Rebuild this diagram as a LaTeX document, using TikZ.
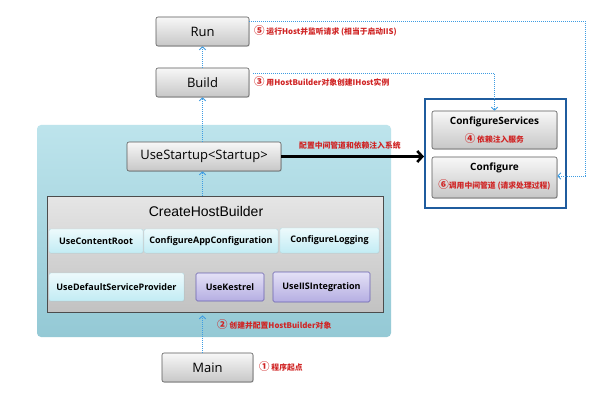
\documentclass[tikz,border=0pt]{standalone}
\usepackage{fontspec}
\setmainfont{Open Sans}
\newfontfamily\cjk{Noto Sans CJK SC}
\newfontfamily\arialf{Liberation Sans}
\usetikzlibrary{arrows.meta,shadows}
\definecolor{redtxt}{HTML}{D02424}
\definecolor{dotblue}{HTML}{3E9CE2}
\definecolor{frameblue}{HTML}{1F5C9E}
\definecolor{panelTop}{HTML}{BDE4EC}
\definecolor{panelBot}{HTML}{94C9D5}
\definecolor{cyanTop}{HTML}{EDFAFC}
\definecolor{cyanBot}{HTML}{C2ECF4}
\definecolor{cyanLine}{HTML}{B5DCE4}
\definecolor{purpTop}{HTML}{E4E1F6}
\definecolor{purpBot}{HTML}{B5AEE2}
\definecolor{purpLine}{HTML}{6A62B0}
\newcommand{\cnum}[1]{{\fontsize{10.5}{9}\selectfont #1}}
\begin{document}
\begin{tikzpicture}[x=1pt,y=-1pt,
  graybox/.style={draw=black!65, rounded corners=2pt, top color=black!3, bottom color=black!22,
    line width=0.6pt, drop shadow={opacity=0.25,shadow xshift=0.8pt,shadow yshift=-0.8pt},
    font=\fontsize{13}{15}\selectfont, inner sep=0pt},
  chbbox/.style={draw=black!70, top color=black!10, bottom color=black!24, line width=0.7pt,
    drop shadow={opacity=0.25,shadow xshift=0.8pt,shadow yshift=-0.8pt}, inner sep=0pt},
  cyanbox/.style={draw=cyanLine, rounded corners=1.5pt, top color=cyanTop, bottom color=cyanBot,
    line width=0.4pt, font=\bfseries\fontsize{9}{10}\selectfont, inner sep=0pt,
    drop shadow={opacity=0.15,shadow xshift=0.6pt,shadow yshift=-0.6pt}},
  purpbox/.style={draw=purpLine, rounded corners=1.5pt, top color=purpTop, bottom color=purpBot,
    line width=0.6pt, font=\bfseries\fontsize{9}{10}\selectfont, inner sep=0pt},
  rlabel/.style={text=redtxt, font=\cjk\bfseries\fontsize{7.8}{9}\selectfont, inner sep=0pt},
  dotarrow/.style={draw=dotblue, line width=0.9pt, dash pattern=on 1pt off 1pt,
    -{Straight Barb[length=3pt,width=6.5pt,line width=0.9pt]}},
  bigarrow/.style={draw=black, line width=2.6pt, -{Straight Barb[length=5pt,width=11pt,line width=2.6pt]}}
]
\useasboundingbox[fill=white] (0,0) rectangle (616,401);

% light blue panel
\shade[top color=panelTop, bottom color=panelBot, rounded corners=4pt] (37,125) rectangle (391,337);

% top boxes
\node[graybox, minimum width=93pt, minimum height=29pt] (run) at (202.5,31.5) {Run};
\node[graybox, minimum width=93pt, minimum height=29pt] (build) at (202.5,82.5) {Build};
\node[graybox, minimum width=154pt, minimum height=29pt] (ustart) at (204,156.5) {UseStartup<Startup>};
\node[graybox, minimum width=91pt, minimum height=29pt] (main) at (207.5,367.5) {Main};

% CreateHostBuilder
\node[chbbox, minimum width=336pt, minimum height=116pt] (chb) at (215,254) {};
\node[font=\arialf\fontsize{14}{16}\selectfont, inner sep=0pt] (chbtitle) at (206,211) {CreateHostBuilder};
\node[cyanbox, minimum width=94pt, minimum height=24pt] (ucr) at (96,241) {UseContentRoot};
\node[cyanbox, minimum width=134pt, minimum height=24pt] (cac) at (211,241) {ConfigureAppConfiguration};
\node[cyanbox, minimum width=99pt, minimum height=25pt] (clog) at (329.5,240.5) {ConfigureLogging};
\node[cyanbox, minimum width=135pt, minimum height=28pt] (udsp) at (116.5,287) {UseDefaultServiceProvider};
\node[purpbox, minimum width=68pt, minimum height=28pt] (ukes) at (230,287) {UseKestrel};
\node[purpbox, minimum width=97pt, minimum height=30pt] (uiis) at (321.5,287) {UseIISIntegration};

% right blue frame
\node[draw=frameblue, line width=2pt, minimum width=141pt, minimum height=109pt, inner sep=0pt] (frame) at (495.5,153.5) {};
\node[graybox, minimum width=125pt, minimum height=38pt] (cs) at (494.5,130) {};
\node[graybox, minimum width=125pt, minimum height=41pt] (cfg) at (494.5,177.5) {};
\node[font=\bfseries\fontsize{10}{11}\selectfont, inner sep=0pt] (cstitle) at (494.5,122) {ConfigureServices};
\node[rlabel] (cssub) at (494.5,139) {\cnum{④} 依赖注入服务};
\node[font=\bfseries\fontsize{10}{11}\selectfont, inner sep=0pt] (cfgtitle) at (494.5,168) {Configure};
\node[rlabel] (cfgsub) at (494.5,185) {\cnum{⑥}调用中间管道 (请求处理过程)};

% red labels
\node[rlabel, anchor=west] (runlbl) at (254,31) {\cnum{⑤} 运行Host并监听请求 (相当于启动IIS)};
\node[rlabel, anchor=west] (buildlbl) at (254,82) {\cnum{③} 用HostBuilder对象创建IHost实例};
\node[rlabel, anchor=west] (arrlbl) at (299,146) {配置中间管道和依赖注入系统};
\node[rlabel, anchor=west] (lbl2) at (217,325) {\cnum{②} 创建并配置HostBuilder对象};
\node[rlabel, anchor=west] (lbl1) at (259,367) {\cnum{①} 程序起点};

% vertical dotted arrows
\draw[dotarrow] (build.north -| run.south) -- (run.south);
\draw[dotarrow] (ustart.north -| run.south) -- (build.south);
\draw[dotarrow] (chb.north -| run.south) -- (ustart.south -| run.south);
\draw[dotarrow] (main.north -| run.south) -- ([yshift=-3pt]chb.south -| run.south);

% right dotted connectors
\coordinate (bA) at (494.5,73);
\coordinate (rA) at (585,21);
\coordinate (rB) at (585,176);
\draw[dotarrow] ([xshift=4pt]build.east |- bA) -- (bA) -- (cs.north);
\draw[dotarrow] (run.east |- rA) -- (rA) -- (rB) -- (cfg.east |- rB);

% thick arrow
\draw[bigarrow] (ustart.east) -- (frame.west |- ustart.east);
\end{tikzpicture}
\end{document}
